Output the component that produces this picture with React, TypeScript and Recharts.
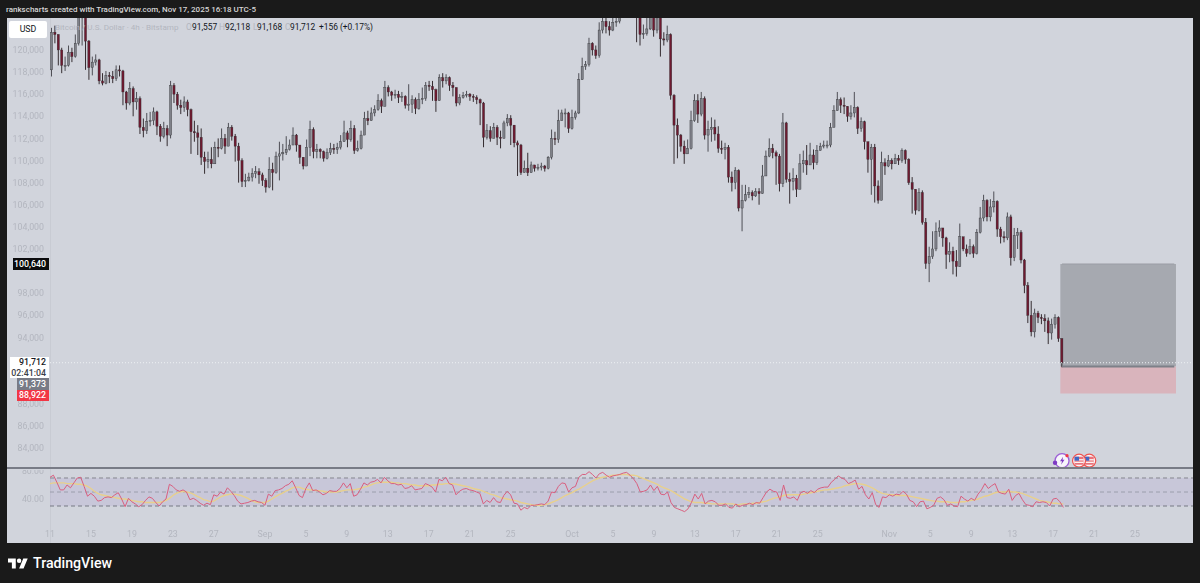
import { Bar, ComposedChart, Line, LineChart, ReferenceArea, ReferenceDot, ReferenceLine, XAxis, YAxis } from "recharts";

// prices in thousands of USD, one candle per 8h slot
const firstOpen = 118.2;
const closes = [
  121.6,121.4,120.0,118.6,118.6,119.8,119.4,120.6,122.9,123.4,120.8,118.4,
  118.9,119.1,117.2,117.0,117.7,117.6,117.4,118.2,118.1,116.2,115.2,116.5,
  115.3,115.6,113.0,112.7,113.5,113.6,114.4,113.1,112.2,112.9,112.3,116.8,
  116.0,115.0,114.8,115.3,114.6,112.6,112.5,112.1,110.3,109.9,110.1,109.7,
  111.2,111.1,112.0,111.3,113.0,112.2,111.3,110.0,108.1,108.2,108.5,108.8,
  109.0,108.7,108.2,107.6,109.2,108.9,110.4,110.6,110.7,111.0,111.4,112.3,
  111.4,110.3,109.5,111.2,112.8,110.8,111.0,110.8,110.2,110.7,111.1,111.0,
  111.2,111.7,112.5,111.9,112.9,110.9,111.1,112.3,113.8,113.6,114.3,114.6,
  115.4,114.9,116.6,116.2,115.9,116.0,115.7,115.8,115.0,115.1,115.5,114.7,
  115.5,115.6,116.8,116.7,116.4,115.4,117.5,117.2,117.5,116.8,116.6,115.2,
  115.7,115.9,116.0,115.8,115.7,115.5,115.2,112.1,112.7,112.0,113.0,112.1,
  112.0,113.4,113.8,113.2,111.6,111.4,108.9,109.3,108.9,109.6,109.3,109.4,
  109.5,109.3,110.3,112.0,111.9,113.6,114.3,114.3,112.9,113.9,114.3,117.3,
  118.5,118.7,120.6,120.0,119.5,121.8,122.6,122.1,121.8,122.5,122.6,123.2,
  124.6,125.5,125.0,124.2,123.0,121.4,121.5,121.9,123.0,121.8,122.9,121.0,
  120.9,121.4,115.9,113.2,112.3,111.3,110.6,111.1,113.6,115.4,114.2,115.6,
  112.3,112.8,113.0,112.4,111.1,111.0,111.2,108.5,108.0,109.1,105.7,106.4,
  106.9,107.1,106.8,107.2,107.0,108.6,110.4,111.1,110.7,110.4,107.9,113.4,
  108.3,108.1,108.4,107.4,109.7,110.0,109.6,110.5,109.8,110.9,111.3,111.4,
  111.4,113.0,114.5,115.5,115.0,114.9,114.0,114.3,114.8,112.9,113.5,111.7,
  110.1,111.2,107.7,106.4,109.8,109.5,110.0,109.7,110.2,110.0,110.9,110.1,
  108.0,107.4,105.5,107.1,104.4,100.7,101.3,102.0,103.6,103.9,103.0,101.5,
  101.8,100.9,100.4,103.1,102.0,101.6,102.2,101.6,103.5,104.8,106.4,104.9,
  105.8,106.3,103.8,103.1,103.0,104.9,101.2,103.2,103.5,101.0,98.7,96.0,
  94.5,96.2,95.8,95.7,95.5,94.4,95.2,95.8,93.9,91.712,
];
const highs = [
  122.0,122.2,121.0,120.2,119.4,120.4,120.2,121.4,123.6,124.0,123.2,120.9,
  119.4,119.6,119.2,117.9,118.1,118.0,118.1,118.6,118.6,118.2,116.3,117.1,
  116.7,116.2,115.8,113.8,114.3,114.4,114.8,114.5,113.3,113.5,113.2,117.2,
  117.0,116.2,115.5,115.8,115.5,114.7,113.6,113.2,112.9,110.8,110.8,111.2,
  111.7,112.0,112.9,112.4,113.4,113.2,112.4,111.6,110.2,108.8,108.9,109.3,
  109.5,109.3,108.9,108.4,110.3,109.8,110.8,111.7,111.5,112.2,111.9,113.0,
  112.4,111.4,110.2,111.9,113.6,113.0,111.5,111.1,110.9,111.1,111.6,111.5,
  111.6,112.3,113.6,112.7,113.6,113.2,111.8,112.7,114.4,114.5,114.8,115.0,
  116.0,115.6,117.2,116.8,116.3,116.4,116.3,116.2,115.9,116.9,115.9,115.7,
  116.1,116.6,117.1,117.2,117.2,116.5,117.8,117.9,117.8,117.6,117.1,116.6,
  116.0,116.2,116.3,116.1,116.0,115.9,115.6,115.3,113.3,113.1,113.4,113.2,
  112.7,113.6,114.2,114.1,113.1,111.8,111.5,110.0,110.7,109.9,109.6,109.7,
  109.8,109.6,110.4,112.8,112.6,114.6,114.6,114.7,114.4,114.6,114.5,117.9,
  119.3,119.0,121.1,120.7,120.4,122.5,123.3,122.9,122.6,123.0,123.2,123.8,
  125.1,126.1,126.0,125.4,124.3,123.2,122.3,123.0,123.6,123.2,123.5,123.1,
  121.6,122.2,121.5,116.0,113.8,112.4,111.8,111.9,114.5,116.0,116.0,116.2,
  115.8,113.6,113.9,113.7,113.1,111.8,111.6,111.4,109.0,109.4,109.2,107.8,
  107.8,107.6,107.3,107.5,107.5,109.6,110.9,112.0,111.5,110.9,110.6,114.3,
  113.5,108.9,109.3,108.7,110.6,110.9,111.4,111.6,111.0,111.4,111.6,111.8,
  111.8,113.4,115.0,116.2,115.7,115.7,114.7,115.0,116.2,114.9,113.9,113.6,
  111.3,111.5,111.5,108.2,110.8,110.2,110.5,110.2,110.6,110.5,111.1,111.0,
  110.2,108.5,107.4,107.5,107.3,104.8,102.2,103.6,104.4,104.6,103.9,103.1,
  102.6,102.2,101.9,104.3,103.1,102.4,102.9,102.4,103.8,105.8,106.9,106.5,
  106.5,107.2,106.4,104.0,103.6,105.3,105.1,103.9,103.9,103.7,101.1,99.0,
  97.3,96.6,96.4,96.1,96.1,95.8,95.7,96.1,95.9,93.9,
];
const lows = [
  117.6,120.6,118.6,117.9,118.1,118.5,118.9,119.3,120.4,120.4,118.2,117.3,
  117.7,118.6,116.9,116.8,116.9,117.0,117.0,117.2,117.6,115.0,114.6,115.0,
  114.0,114.6,112.4,112.1,112.4,113.1,113.2,112.3,111.7,112.0,111.3,112.0,
  115.2,114.6,114.2,114.4,114.0,110.6,111.7,110.5,109.6,108.8,109.3,109.3,
  110.0,110.3,111.0,110.6,111.3,111.8,109.9,108.0,107.6,107.6,108.1,108.1,
  108.4,107.9,107.7,107.1,107.5,107.3,108.8,108.2,110.0,110.5,110.9,111.4,
  110.8,109.7,109.2,109.8,110.4,110.2,110.2,110.2,109.9,110.1,110.5,110.6,
  110.6,111.0,111.8,111.2,111.7,110.6,110.8,111.0,112.4,113.2,113.7,114.0,
  114.5,114.3,114.9,115.8,115.4,115.6,115.2,115.3,114.7,114.5,114.3,114.2,
  114.6,115.1,115.4,116.3,115.4,114.4,115.6,116.6,116.9,116.3,115.8,114.9,
  115.0,115.6,115.7,115.4,115.3,115.1,113.2,111.2,111.9,111.7,112.0,111.4,
  111.1,112.0,113.1,111.4,111.2,108.6,108.7,108.9,108.6,108.9,109.0,109.1,
  109.1,109.0,109.2,110.1,111.4,111.6,113.9,113.0,112.5,112.8,113.7,114.2,
  117.6,118.2,118.5,119.5,119.2,119.3,121.5,121.5,121.3,121.7,122.1,122.4,
  123.0,124.4,124.4,123.6,120.7,120.4,121.0,121.3,121.8,121.2,121.5,119.4,
  120.4,120.7,115.5,109.7,110.2,110.8,109.7,110.6,111.0,113.5,113.4,114.0,
  111.9,110.8,111.7,111.8,110.7,110.6,110.1,108.0,107.2,107.4,105.4,103.6,
  106.3,106.6,106.4,106.7,106.0,107.6,108.6,110.3,110.2,107.8,107.2,107.6,
  108.0,106.1,107.3,106.7,107.5,108.9,108.7,109.9,109.2,109.6,110.9,111.1,
  111.1,111.2,113.4,114.6,114.3,114.2,113.5,113.7,113.9,112.4,112.6,111.0,
  108.9,106.9,106.2,106.1,107.5,108.7,109.4,109.2,109.8,109.6,109.8,109.7,
  107.8,105.2,105.1,105.4,104.2,100.2,99.0,101.1,101.8,103.1,102.2,100.2,
  100.8,99.7,99.5,100.5,101.8,101.3,101.5,101.2,101.5,103.4,104.5,104.5,
  104.5,105.3,103.1,102.5,102.6,102.8,100.5,100.9,102.0,100.7,98.0,95.3,
  94.1,94.0,95.3,95.2,94.5,93.4,93.8,94.8,93.6,91.3,
];
const rsiValues = [
  71,74,64,53,53,60,56,63,70,71,58,44,
  48,44,37,38,42,43,42,46,49,40,29,41,
  36,33,29,32,38,43,41,35,30,36,40,61,
  58,53,51,53,50,39,41,38,34,31,34,32,
  46,44,50,47,56,51,45,37,33,34,35,37,
  38,36,35,31,47,44,52,53,55,59,61,66,
  56,45,42,55,63,52,53,50,46,48,52,51,
  51,55,63,56,62,44,46,54,63,60,64,65,
  68,63,71,66,62,62,60,61,55,56,59,53,
  54,55,62,60,57,50,68,66,71,62,60,46,
  51,54,55,53,52,50,48,33,38,35,42,36,
  35,45,51,46,34,33,24,28,26,31,31,32,
  33,32,37,50,49,58,63,62,50,56,58,71,
  75,75,79,75,70,76,78,74,71,73,74,75,
  77,78,74,69,62,50,51,53,60,52,58,47,
  46,50,35,28,26,24,22,26,35,47,40,48,
  33,37,38,36,31,31,33,28,27,33,29,31,
  32,34,32,35,34,42,50,54,51,50,38,60,
  42,41,43,38,49,51,48,52,49,54,56,57,
  57,64,68,73,70,68,62,64,67,54,58,46,
  40,49,32,28,43,42,46,44,47,46,51,47,
  38,36,29,36,37,26,28,31,41,43,39,31,
  33,30,29,44,40,37,41,38,47,53,62,55,
  59,62,50,48,47,54,38,45,48,39,32,31,
  29,36,35,36,35,30,40,41,36,28,
];
const rsiAverage = [
  62,63,63,63,63,62,62,62,61,61,60,58,
  55,51,48,46,45,44,43,42,41,40,40,39,
  38,37,36,36,35,35,35,35,35,36,38,41,
  45,48,50,51,50,49,47,44,42,39,38,36,
  37,40,43,45,46,47,47,46,45,43,41,38,
  36,35,35,35,37,40,43,46,48,51,53,56,
  57,57,55,54,53,53,52,52,51,50,50,50,
  50,51,52,53,53,53,54,55,57,58,60,62,
  63,64,64,64,64,63,63,62,62,61,60,60,
  59,59,59,59,60,60,61,61,62,62,62,61,
  60,59,58,57,55,54,53,51,49,47,46,44,
  42,41,40,39,38,37,35,34,33,32,31,31,
  31,32,33,35,37,39,42,45,47,49,52,54,
  57,60,63,66,68,70,71,72,73,74,74,75,
  75,75,74,74,73,71,69,67,65,63,61,58,
  56,54,52,49,46,43,40,38,36,35,35,35,
  34,34,33,33,33,33,33,33,33,32,32,33,
  33,33,34,34,35,36,37,39,41,42,43,45,
  46,46,46,46,46,47,48,49,50,51,52,53,
  53,54,55,56,57,59,60,61,62,62,61,60,
  58,56,53,50,48,47,46,46,45,45,45,45,
  44,43,42,41,40,39,38,37,37,36,36,36,
  35,35,35,36,36,37,38,39,40,42,44,45,
  47,49,50,50,50,51,50,50,49,48,46,44,
  42,40,38,37,36,35,34,34,33,33,
];

const slotCount = 336;
const tickSlots = [0,12,24,36,48,63,75,87,99,111,123,135,153,165,177,189,201,213,225,246,258,270,282,294,306,318];
const tickLabels = ["11","15","19","23","27","Sep","5","9","13","17","21","25","Oct","5","9","13","17","21","25","Nov","5","9","13","17","21","25"];
// 100k, 92k and 90k sit behind the price tags in the reference
const priceTicks = [84,86,88,94,96,98,102,104,106,108,110,112,114,116,118,120];
const rsiTicks = [40,80];

const targetPrice = 100.64;
const entryPrice = 91.373;
const stopPrice = 88.922;
const lastPrice = 91.712;

const FONT = "Roboto, 'Liberation Sans', sans-serif";
const FADED = "#b3b6bf";

const rows = Array.from({ length: slotCount }, (_, slot) => {
  if (slot >= closes.length) return { slot, range: null, rsi: null, avg: null };
  const open = slot === 0 ? firstOpen : closes[slot - 1];
  const close = closes[slot];
  return {
    slot,
    open,
    close,
    range: [Math.min(lows[slot], open, close), Math.max(highs[slot], open, close)],
    rsi: rsiValues[slot],
    avg: rsiAverage[slot],
  };
});

function Candle(props: any) {
  const { x, y, width, height, payload } = props;
  if (!payload || !payload.range) return null;
  const [low, high] = payload.range;
  const perUnit = height / (high - low);
  const openY = y + (high - payload.open) * perUnit;
  const closeY = y + (high - payload.close) * perUnit;
  const up = payload.close >= payload.open;
  const cx = x + width / 2;
  const top = Math.min(openY, closeY);
  return (
    <g>
      <line x1={cx} x2={cx} y1={y} y2={y + height} stroke={up ? "#3f4046" : "#221a1d"} strokeWidth={0.9} />
      <rect
        x={cx - 1.1}
        y={top}
        width={2.2}
        height={Math.max(Math.abs(closeY - openY), 1)}
        fill={up ? "#7f8189" : "#6e1a30"}
        stroke="#2b2b2e"
        strokeWidth={0.35}
      />
    </g>
  );
}

function FlagIcon(props: any) {
  const { cx, cy } = props;
  return (
    <g>
      <circle cx={cx} cy={cy} r={6.5} fill="#f7f7fa" stroke="#ef5350" strokeWidth={1.2} />
      <rect x={cx - 4.5} y={cy - 4} width={9} height={8} fill="#e9727a" />
      <rect x={cx - 4.5} y={cy - 1.5} width={9} height={1.2} fill="#fff" />
      <rect x={cx - 4.5} y={cy + 1} width={9} height={1.2} fill="#fff" />
      <rect x={cx - 4.5} y={cy - 4} width={4.5} height={4} fill="#4267c2" />
    </g>
  );
}

function BoltIcon(props: any) {
  const { cx, cy } = props;
  return (
    <g>
      <circle cx={cx} cy={cy} r={7} fill="#f7f5fb" stroke="#9c5fd6" strokeWidth={1.3} />
      <path d={`M${cx + 1} ${cy - 4}L${cx - 2} ${cy + 0.5}H${cx}L${cx - 1} ${cy + 4}L${cx + 2.5} ${cy - 1}H${cx + 0.5}Z`} fill="#7e3bc4" />
      <circle cx={cx - 7} cy={cy + 2} r={2.2} fill="#7e3bc4" />
      <circle cx={cx + 5} cy={cy - 5} r={1.6} fill="#f23645" />
    </g>
  );
}

function PriceTag({ top, left, height, bg, color, text }: any) {
  return (
    <div
      style={{
        position: "absolute",
        top,
        left,
        width: 49 - left,
        height,
        lineHeight: `${height}px`,
        background: bg,
        color,
        fontFamily: FONT,
        fontSize: 8.8,
        fontWeight: 500,
        textAlign: "right",
        paddingRight: 3,
        boxSizing: "border-box",
        whiteSpace: "nowrap",
      }}
    >
      {text}
    </div>
  );
}

const legendParts = [
  { left: 186, text: "O", color: FADED },
  { left: 192, text: "91,557", color: "#131722" },
  { left: 219, text: "H", color: FADED },
  { left: 225, text: "92,118", color: "#131722" },
  { left: 253, text: "L", color: FADED },
  { left: 257, text: "91,168", color: "#131722" },
  { left: 285, text: "C", color: FADED },
  { left: 290, text: "91,712", color: "#131722" },
  { left: 319, text: "+156 (+0.17%)", color: "#131722" },
];

export default function App() {
  return (
    <div style={{ position: "fixed", left: 0, top: 0, width: 1200, height: 583, background: "#1a1a1a", overflow: "hidden", fontFamily: FONT }}>
      <div style={{ position: "absolute", left: 6, top: 3, color: "#d6d6d6", fontSize: 8, fontWeight: 500, lineHeight: "13px", whiteSpace: "nowrap" }}>
        rankscharts created with TradingView.com, Nov 17, 2025 16:18 UTC-5
      </div>

      <div style={{ position: "absolute", left: 7, top: 18, width: 1186, height: 525, background: "#d1d4dc" }} />
      <div style={{ position: "absolute", left: 50, top: 18, width: 1, height: 525, background: "#c8cbd3" }} />

      <div style={{ position: "absolute", left: 7, top: 18, filter: "blur(0.3px)" }}>
        <ComposedChart width={1186} height={450} data={rows} margin={{ top: 0, right: 0, bottom: 0, left: 0 }}>
          <XAxis dataKey="slot" hide />
          <YAxis
            width={43}
            domain={[82.19, 122.89]}
            allowDataOverflow
            ticks={priceTicks}
            interval={0}
            axisLine={false}
            tickLine={false}
            tick={{ fill: FADED, fontSize: 8.8, fontFamily: FONT }}
            tickMargin={0}
            tickFormatter={(v: number) => (v * 1000).toLocaleString("en-US")}
          />
          <ReferenceArea x1={297} x2={330} y1={entryPrice} y2={targetPrice} fill="#a6a9b0" fillOpacity={1} stroke="none" />
          <ReferenceArea x1={297} x2={330} y1={stopPrice} y2={entryPrice} fill="#d9b4bc" fillOpacity={1} stroke="none" />
          <ReferenceLine segment={[{ x: 297, y: targetPrice }, { x: 330, y: targetPrice }]} stroke="#9a9da5" strokeWidth={1} />
          <ReferenceLine segment={[{ x: 297, y: entryPrice }, { x: 330, y: entryPrice }]} stroke="#7d8088" strokeWidth={2} />
          <ReferenceLine y={lastPrice} stroke="#eef0f4" strokeDasharray="1 2" strokeWidth={1} />
          <Bar dataKey="range" shape={<Candle />} barSize={3} isAnimationActive={false} />
          <ReferenceDot x={297} y={82.85} r={7} ifOverflow="visible" shape={<BoltIcon />} />
          <ReferenceDot x={305} y={82.85} r={7} ifOverflow="visible" shape={<FlagIcon />} />
          <ReferenceDot x={302} y={82.85} r={7} ifOverflow="visible" shape={<FlagIcon />} />
        </ComposedChart>
      </div>

      <div style={{ position: "absolute", left: 7, top: 470, filter: "blur(0.3px)" }}>
        <LineChart width={1186} height={73} data={rows} margin={{ top: 0, right: 0, bottom: 0, left: 0 }}>
          <XAxis
            dataKey="slot"
            height={18}
            ticks={tickSlots}
            interval={0}
            axisLine={false}
            tickLine={false}
            tick={{ fill: FADED, fontSize: 8.8, fontFamily: FONT }}
            tickMargin={0}
            tickFormatter={(v: number) => tickLabels[tickSlots.indexOf(v)]}
          />
          <YAxis
            width={43}
            domain={[2.9, 81.4]}
            allowDataOverflow
            ticks={rsiTicks}
            interval={0}
            axisLine={false}
            tickLine={false}
            tick={{ fill: FADED, fontSize: 8.8, fontFamily: FONT }}
            tickMargin={0}
            tickFormatter={(v: number) => v.toFixed(2)}
          />
          <ReferenceArea y1={30} y2={70} fill="#7e57c2" fillOpacity={0.1} stroke="none" />
          <ReferenceLine y={70} stroke="#85878f" strokeDasharray="4 3" />
          <ReferenceLine y={50} stroke="#9c9eac" strokeDasharray="4 3" />
          <ReferenceLine y={30} stroke="#777983" strokeDasharray="4 3" />
          <Line dataKey="avg" stroke="#e8d08c" strokeWidth={1.4} dot={false} isAnimationActive={false} />
          <Line dataKey="rsi" stroke="#d85f7f" strokeWidth={1} dot={false} isAnimationActive={false} />
        </LineChart>
      </div>

      <div style={{ position: "absolute", left: 7, top: 467, width: 1186, height: 2, background: "#787b86" }} />

      <div style={{ position: "absolute", left: 9, top: 21, width: 38, height: 17, background: "#fff", borderRadius: 2, color: "#131722", fontSize: 8.8, lineHeight: "17px", textAlign: "center" }}>
        USD
      </div>
      <div style={{ position: "absolute", left: 55, top: 21, color: FADED, fontSize: 8.1, lineHeight: "13px", whiteSpace: "nowrap" }}>
        Bitcoin / U.S. Dollar · 4h · Bitstamp
      </div>
      {legendParts.map((part) => (
        <div key={part.left} style={{ position: "absolute", left: part.left, top: 21, color: part.color, fontSize: 8.4, lineHeight: "13px", whiteSpace: "nowrap" }}>
          {part.text}
        </div>
      ))}

      <PriceTag top={258} left={13} height={12} bg="#0b0b0d" color="#fff" text="100,640" />
      <PriceTag top={357} left={10} height={11} bg="#fff" color="#131722" text="91,712" />
      <PriceTag top={368} left={10} height={10} bg="#fff" color="#3c3f48" text="02:41:04" />
      <PriceTag top={378} left={17} height={12} bg="#787b86" color="#fff" text="91,373" />
      <PriceTag top={390} left={17} height={11} bg="#f23645" color="#fff" text="88,922" />

      <svg style={{ position: "absolute", left: 8, top: 557 }} width={20} height={13} viewBox="0 4 36 18">
        <path d="M14 22H7V11H0V4h14v18zM28 22h-8l7.5-18h8L28 22z" fill="#fff" />
        <circle cx={20} cy={8} r={4} fill="#fff" />
      </svg>
      <div style={{ position: "absolute", left: 33, top: 552, color: "#fff", fontSize: 14.2, fontWeight: 500, lineHeight: "22px", fontFamily: FONT }}>
        TradingView
      </div>
    </div>
  );
}
